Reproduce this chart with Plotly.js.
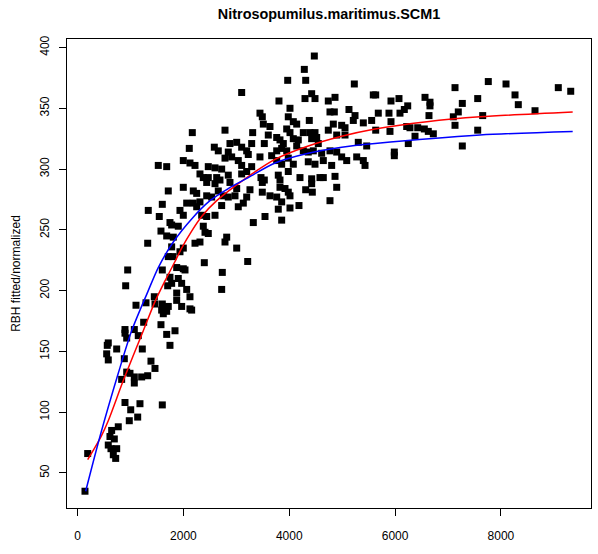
<!DOCTYPE html>
<html><head><meta charset="utf-8">
<script src="https://cdn.plot.ly/plotly-3.0.1.min.js"></script>
<style>body{margin:0;background:#fff}#chart{width:598px;height:554px}</style>
</head><body><div id="chart"></div>
<script>
const chartTitle = 'Nitrosopumilus.maritimus.SCM1';
const yTitle = 'RBH fitted/normalized';
const xTicks = [0, 2000, 4000, 6000, 8000];
const yTicks = [50, 100, 150, 200, 250, 300, 350, 400];

const xVals = [
580,561,896,928,1147,1684,1746,739,1223,550,580,883,1387,1463,928,990,833,1072,1072,1211,1325,896,1004,1179,977,1136,1601,769,644,612,694,580,631,739,675,720,191,140,
1525,1684,1714,1601,1336,1544,1746,1778,1576,1684,1809,1325,1778,1714,1803,947,1601,1746,909,1703,1778,1450,1293,1104,1601,1463,1620,1684,1589,1714,1249,1576,896,1072,
3101,3447,3491,3510,2168,2786,3309,3636,3604,2880,3007,3290,3529,2111,2584,2659,3101,3196,3226,2848,2912,2786,1998,2124,2219,2470,2597,2723,3037,3101,3447,3668,2313,2376,2470,2440,2629,2691,2597,2848,2880,3101,3196,3466,3529,3491,3290,1998,2187,2251,2659,2754,3007,3258,3491,3636,2440,2534,2848,2975,3196,
2062,2187,2313,2251,2723,3037,3132,1935,1998,2345,2440,2597,3542,3321,2376,2408,1903,2470,2818,2786,2219,2313,3007,1998,1935,2395,3215,1873,1998,2030,2735,1903,1967,2723,2062,2124,1873,1967,2124,2156,1873,1841,
4474,4285,3971,4311,5230,4424,4487,4298,4865,4738,3806,5589,4014,3982,4770,4852,5129,4379,4077,4141,5243,5211,4833,4991,5054,5400,5558,3952,4014,4266,4392,4487,4738,4897,5054,3763,3825,3888,4077,4171,4141,4424,4519,4549,5305,5464,3763,3857,3952,4266,4360,4455,4613,4770,4897,4991,5086,5275,5400,5432,3982,4077,3857,4360,4487,4644,4802,3763,
3793,3825,3982,4203,4424,4424,4581,4644,4865,4897,3825,3920,3982,4014,4311,4436,4770,3763,3857,3793,4184,4014,3857,
7133,5634,7562,6074,5923,6566,6660,6660,7271,6239,6175,6093,5683,5885,7195,6641,7101,7133,5923,6220,6282,6428,6553,6628,6723,5634,5904,7562,6377,6250,7271,5986,5986,
7762,8097,9085,9320,8267,8329,8645,7656
];
const yVals = [
157,155,165,161,163,164,155,152,152,148,143,144,142,136,133,132,127,129,124,129,130,108,102,107,93,96,106,88,85,80,78,73,70,70,65,62,66,35,
303,302,282,271,266,261,256,254,249,245,244,239,236,228,228,217,217,211,204,204,206,195,190,188,189,189,181,183,184,187,174,172,168,168,
363,346,343,337,330,332,330,335,328,321,322,321,321,317,318,315,318,315,312,314,310,309,307,305,303,302,301,300,307,303,310,311,296,293,293,289,293,291,288,295,289,296,298,293,291,289,302,285,282,280,282,278,284,283,281,278,278,277,277,278,277,
272,272,273,269,270,269,272,266,262,262,261,262,261,256,253,248,253,247,244,240,239,240,235,235,232,223,224,219,218,217,215,210,206,201,201,195,198,187,185,184,192,167,
393,382,373,373,370,362,358,358,359,356,356,361,350,343,347,347,349,340,339,337,344,340,337,336,334,338,340,333,330,330,330,330,332,328,328,326,324,321,325,324,319,325,326,321,322,319,315,317,315,315,314,315,313,315,314,310,307,310,307,303,309,304,304,306,304,307,303,307,
295,291,298,293,292,288,293,293,294,285,285,284,281,278,283,281,274,277,273,267,270,268,258,
367,361,358,358,356,359,355,352,354,352,349,346,346,346,347,344,343,336,339,335,334,334,333,331,329,332,331,332,327,321,319,314,311,
372,370,367,364,361,353,348,344
];

const redX = [191, 329, 455, 580, 864, 1242, 1463, 1652, 1841, 1967, 2156, 2345, 2629, 3164, 3731, 4360, 4991, 5621, 6600, 7605, 9357];
const redY = [61, 71, 81, 93, 126, 167, 191, 208, 224, 235, 249, 261, 274, 292, 308, 319, 327, 333, 339, 343, 347];
const blueX = [153, 423, 769, 1022, 1336, 1525, 1809, 2156, 2502, 2848, 3226, 3731, 4360, 4991, 5621, 7605, 9357];
const blueY = [35, 80, 132, 167, 200, 219, 240, 259, 274, 284, 293, 305, 313, 318, 321, 328, 331];

const font = 'Liberation Sans, Arial, Helvetica, sans-serif';
const traces = [
  {x: xVals, y: yVals, type: 'scatter', mode: 'markers',
   marker: {symbol: 'square', size: 7, color: '#000000', line: {width: 0}}, hoverinfo: 'skip'},
  {x: redX, y: redY, type: 'scatter', mode: 'lines',
   line: {color: '#FF0000', width: 1.5, shape: 'spline', smoothing: 0.8}},
  {x: blueX, y: blueY, type: 'scatter', mode: 'lines',
   line: {color: '#0000FF', width: 1.5, shape: 'spline', smoothing: 0.8}}
];
const axisCommon = {
  showgrid: false, zeroline: false, showline: true, mirror: true,
  linecolor: '#000', linewidth: 1, ticks: 'outside', ticklen: 7, tickwidth: 1,
  tickcolor: '#000', tickfont: {family: font, size: 12, color: '#000'}
};
const layout = {
  width: 598, height: 554, autosize: false, showlegend: false,
  paper_bgcolor: '#fff', plot_bgcolor: '#fff',
  margin: {l: 67, r: 7, t: 39, b: 46, pad: 0},
  title: {text: '<b>' + chartTitle + '</b>', font: {family: font, size: 14.4, color: '#000'},
          x: 0.5, xref: 'paper', xanchor: 'center', y: 1 - 14/554, yref: 'container', yanchor: 'middle'},
  xaxis: Object.assign({}, axisCommon, {range: [-200, 9703], tickvals: xTicks,
          ticktext: xTicks.map(String), ticklabelstandoff: 10}),
  yaxis: Object.assign({}, axisCommon, {range: [21.2, 407], tickvals: yTicks,
          ticktext: yTicks.map(String), tickangle: -90, ticklabelstandoff: 5,
          title: {text: yTitle, font: {family: font, size: 12, color: '#000'}, standoff: 15}})
};
Plotly.newPlot('chart', traces, layout, {staticPlot: true, displayModeBar: false});
</script>
</body></html>
